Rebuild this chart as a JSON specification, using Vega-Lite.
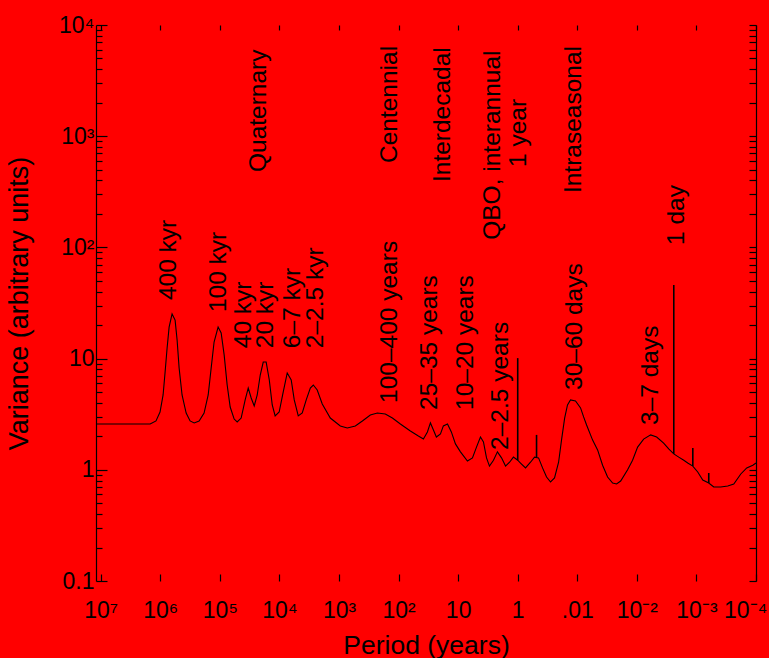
{
  "$schema": "https://vega.github.io/schema/vega-lite/v6.json",
  "width": 660,
  "height": 556,
  "autosize": {"type": "none"},
  "padding": {"left": 96, "top": 25, "right": 13, "bottom": 77},
  "background": "#ff0000",
  "config": {
    "view": {"stroke": null},
    "font": "Liberation Sans",
    "axis": {
      "grid": false,
      "labelColor": "#000000",
      "titleColor": "#000000",
      "tickColor": "#000000",
      "domainColor": "#000000",
      "labelFont": "Liberation Sans",
      "titleFont": "Liberation Sans",
      "titleFontWeight": "normal",
      "labelOverlap": false,
      "labelFlush": false
    }
  },
  "datasets": {
    "spectrum": [
      {"period": 12000000, "variance": 2.58},
      {"period": 1480000, "variance": 2.58},
      {"period": 1180000, "variance": 2.75},
      {"period": 1010000, "variance": 3.31},
      {"period": 897000, "variance": 4.71},
      {"period": 830000, "variance": 7.57},
      {"period": 769000, "variance": 12.4},
      {"period": 711000, "variance": 19.2},
      {"period": 634000, "variance": 25.2},
      {"period": 564000, "variance": 22.2},
      {"period": 522000, "variance": 14.7},
      {"period": 483000, "variance": 8.22},
      {"period": 431000, "variance": 4.71},
      {"period": 368000, "variance": 3.24},
      {"period": 316000, "variance": 2.75},
      {"period": 270000, "variance": 2.64},
      {"period": 223000, "variance": 2.75},
      {"period": 184000, "variance": 3.24},
      {"period": 157000, "variance": 4.71},
      {"period": 140000, "variance": 8.22},
      {"period": 125000, "variance": 14.1},
      {"period": 107000, "variance": 19.2},
      {"period": 95100, "variance": 17.0},
      {"period": 84700, "variance": 10.8},
      {"period": 75400, "variance": 5.79},
      {"period": 67100, "variance": 3.67},
      {"period": 57500, "variance": 2.86},
      {"period": 51200, "variance": 2.69},
      {"period": 43900, "variance": 2.92},
      {"period": 37600, "variance": 4.25},
      {"period": 33400, "variance": 5.44},
      {"period": 29800, "variance": 4.42},
      {"period": 26500, "variance": 3.75},
      {"period": 23600, "variance": 4.71},
      {"period": 21000, "variance": 7.12},
      {"period": 18700, "variance": 9.31},
      {"period": 16700, "variance": 9.31},
      {"period": 14800, "variance": 6.42},
      {"period": 13200, "variance": 3.83},
      {"period": 11800, "variance": 3.05},
      {"period": 10100, "variance": 3.31},
      {"period": 8630, "variance": 5.01},
      {"period": 7400, "variance": 7.43},
      {"period": 6340, "variance": 6.42},
      {"period": 5640, "variance": 4.25},
      {"period": 4830, "variance": 3.05},
      {"period": 4140, "variance": 3.24},
      {"period": 3550, "variance": 4.25},
      {"period": 3030, "variance": 5.44},
      {"period": 2700, "variance": 5.79},
      {"period": 2320, "variance": 5.22},
      {"period": 1910, "variance": 3.91},
      {"period": 1400, "variance": 2.92},
      {"period": 951, "variance": 2.48},
      {"period": 726, "variance": 2.38},
      {"period": 532, "variance": 2.48},
      {"period": 405, "variance": 2.75},
      {"period": 298, "variance": 3.11},
      {"period": 227, "variance": 3.24},
      {"period": 167, "variance": 3.18},
      {"period": 127, "variance": 2.92},
      {"period": 93.3, "variance": 2.58},
      {"period": 63.4, "variance": 2.23},
      {"period": 46.5, "variance": 2.01},
      {"period": 38.3, "variance": 1.89},
      {"period": 32.8, "variance": 2.19},
      {"period": 29.2, "variance": 2.64},
      {"period": 26.0, "variance": 2.28},
      {"period": 23.2, "variance": 1.97},
      {"period": 19.8, "variance": 2.10},
      {"period": 17.7, "variance": 2.48},
      {"period": 15.1, "variance": 2.58},
      {"period": 13.0, "variance": 2.19},
      {"period": 11.1, "variance": 1.71},
      {"period": 9.14, "variance": 1.45},
      {"period": 6.98, "variance": 1.20},
      {"period": 5.75, "variance": 1.28},
      {"period": 4.92, "variance": 1.60},
      {"period": 4.22, "variance": 1.97},
      {"period": 3.76, "variance": 1.78},
      {"period": 3.34, "variance": 1.28},
      {"period": 2.98, "variance": 1.08},
      {"period": 2.55, "variance": 1.22},
      {"period": 2.19, "variance": 1.45},
      {"period": 1.87, "variance": 1.28},
      {"period": 1.60, "variance": 1.08},
      {"period": 1.37, "variance": 1.17},
      {"period": 1.18, "variance": 1.30},
      {"period": 1.0, "variance": 1.22},
      {"period": 0.897, "variance": 1.15},
      {"period": 0.740, "variance": 1.04},
      {"period": 0.610, "variance": 1.17},
      {"period": 0.522, "variance": 1.30},
      {"period": 0.447, "variance": 1.28},
      {"period": 0.383, "variance": 1.04},
      {"period": 0.328, "variance": 0.861},
      {"period": 0.281, "variance": 0.777},
      {"period": 0.241, "variance": 0.844},
      {"period": 0.206, "variance": 1.17},
      {"period": 0.184, "variance": 1.85},
      {"period": 0.163, "variance": 2.92},
      {"period": 0.146, "variance": 3.83},
      {"period": 0.130, "variance": 4.25},
      {"period": 0.107, "variance": 4.16},
      {"period": 0.0881, "variance": 3.60},
      {"period": 0.0783, "variance": 2.99},
      {"period": 0.0698, "variance": 2.53},
      {"period": 0.0553, "variance": 1.85},
      {"period": 0.0456, "variance": 1.51},
      {"period": 0.0376, "variance": 1.10},
      {"period": 0.0310, "variance": 0.861},
      {"period": 0.0255, "variance": 0.760},
      {"period": 0.0219, "variance": 0.745},
      {"period": 0.0187, "variance": 0.793},
      {"period": 0.0143, "variance": 1.0},
      {"period": 0.0118, "variance": 1.22},
      {"period": 0.00971, "variance": 1.60},
      {"period": 0.00769, "variance": 1.89},
      {"period": 0.00586, "variance": 2.06},
      {"period": 0.00465, "variance": 1.97},
      {"period": 0.00355, "variance": 1.74},
      {"period": 0.00292, "variance": 1.54},
      {"period": 0.0024, "variance": 1.39},
      {"period": 0.00198, "variance": 1.30},
      {"period": 0.00163, "variance": 1.22},
      {"period": 0.00140, "variance": 1.15},
      {"period": 0.00115, "variance": 1.08},
      {"period": 0.000951, "variance": 0.955},
      {"period": 0.000783, "variance": 0.809},
      {"period": 0.000621, "variance": 0.760},
      {"period": 0.000512, "variance": 0.700},
      {"period": 0.000391, "variance": 0.700},
      {"period": 0.000298, "variance": 0.715},
      {"period": 0.000236, "variance": 0.745},
      {"period": 0.000180, "variance": 0.917},
      {"period": 0.000143, "variance": 1.04},
      {"period": 0.000113, "variance": 1.10},
      {"period": 0.0001, "variance": 1.15}
    ],
    "spikes": [
      {"period": 1.0, "low": 1.22, "high": 10.1},
      {"period": 0.483, "low": 1.30, "high": 2.06},
      {"period": 0.0024, "low": 1.39, "high": 45.9},
      {"period": 0.00115, "low": 1.08, "high": 1.57},
      {"period": 0.000621, "low": 0.76, "high": 0.936}
    ],
    "labels": [
      {"label": "400 kyr", "period": 542000, "variance": 33.6},
      {"label": "100 kyr", "period": 78300, "variance": 26.2},
      {"label": "40 kyr", "period": 29800, "variance": 12.4},
      {"label": "20 kyr", "period": 12700, "variance": 12.4},
      {"label": "6–7 kyr", "period": 4470, "variance": 12.4},
      {"label": "2–2.5 kyr", "period": 1840, "variance": 12.4},
      {"label": "100–400 years", "period": 105, "variance": 3.99},
      {"label": "25–35 years", "period": 22.3, "variance": 3.45},
      {"label": "10–20 years", "period": 5.53, "variance": 3.45},
      {"label": "2–2.5 years", "period": 1.48, "variance": 1.51},
      {"label": "30–60 days", "period": 0.0847, "variance": 5.22},
      {"label": "3–7 days", "period": 0.00447, "variance": 2.53},
      {"label": "1 day", "period": 0.00163, "variance": 105},
      {"label": "Quaternary", "period": 16700, "variance": 476},
      {"label": "Centennial", "period": 105, "variance": 574},
      {"label": "Interdecadal", "period": 13.5, "variance": 387},
      {"label": "QBO, interannual", "period": 1.95, "variance": 117},
      {"label": "1 year", "period": 0.74, "variance": 528},
      {"label": "Intraseasonal", "period": 0.0881, "variance": 308}
    ]
  },
  "resolve": {"axis": {"x": "independent", "y": "independent"}},
  "layer": [
    {
      "data": {"name": "spectrum"},
      "mark": {"type": "line", "color": "#000000", "strokeWidth": 1.1},
      "encoding": {
        "x": {
          "field": "period", "type": "quantitative",
          "scale": {"type": "log", "domain": [0.0001, 12000000], "reverse": true, "nice": false},
          "axis": {
            "orient": "bottom",
            "values": [10000000, 1000000, 100000, 10000, 1000, 100, 10, 1, 0.1, 0.01, 0.001, 0.0001],
            "labelExpr": "['10⁻⁴','10⁻³','10⁻²','.01','1','10','10²','10³','10⁴','10⁵','10⁶','10⁷'][round(log(datum.value)/LN10)+4]",
            "tickSize": -7,
            "tickWidth": 1.2,
            "domain": false,
            "labelPadding": 25,
            "labelFontSize": 23,
            "labelAlign": {"condition": {"test": "datum.value < 0.0002", "value": "right"}, "value": "center"},
            "labelOffset": {"condition": {"test": "datum.value < 0.0002", "value": 11}, "value": 0},
            "title": "Period (years)",
            "titleFontSize": 26.5,
            "titleY": 72,
            "titleBaseline": "alphabetic"
          }
        },
        "y": {
          "field": "variance", "type": "quantitative",
          "scale": {"type": "log", "domain": [0.1, 10000], "nice": false},
          "axis": {
            "orient": "left",
            "values": [0.1, 1, 10, 100, 1000, 10000],
            "labelExpr": "['0.1','1','10','10²','10³','10⁴'][round(log(datum.value)/LN10)+1]",
            "tickSize": -11,
            "tickWidth": 1.2,
            "domain": true,
            "domainWidth": 1.2,
            "labelPadding": 13,
            "labelFontSize": 23,
            "title": "Variance (arbitrary units)",
            "titleFontSize": 27,
            "titleX": -69,
            "titleY": 278,
            "titleAngle": 270,
            "titleAlign": "center",
            "titleBaseline": "alphabetic"
          }
        }
      }
    },
    {
      "data": {"name": "spikes"},
      "mark": {"type": "rule", "color": "#000000", "strokeWidth": 1.6},
      "encoding": {
        "x": {
          "field": "period", "type": "quantitative",
          "scale": {"type": "log", "domain": [0.0001, 12000000], "reverse": true, "nice": false},
          "axis": {
            "orient": "top",
            "values": [10000000, 1000000, 100000, 10000, 1000, 100, 10, 1, 0.1, 0.01, 0.001, 0.0001],
            "labels": false,
            "tickSize": -5,
            "tickWidth": 1.2,
            "domain": false,
            "title": null
          }
        },
        "y": {
          "field": "low", "type": "quantitative",
          "scale": {"type": "log", "domain": [0.1, 10000], "nice": false},
          "axis": {
            "orient": "left",
            "values": [0.2,0.3,0.4,0.5,0.6,0.7,0.8,0.9,2,3,4,5,6,7,8,9,20,30,40,50,60,70,80,90,200,300,400,500,600,700,800,900,2000,3000,4000,5000,6000,7000,8000,9000],
            "labels": false,
            "tickSize": -6,
            "tickWidth": 1.2,
            "domain": false,
            "title": null
          }
        },
        "y2": {"field": "high"}
      }
    },
    {
      "data": {"name": "labels"},
      "mark": {"type": "text", "angle": 270, "align": "left", "baseline": "alphabetic", "fontSize": 24.5, "font": "Liberation Sans", "color": "#000000"},
      "encoding": {
        "x": {
          "field": "period", "type": "quantitative",
          "scale": {"type": "log", "domain": [0.0001, 12000000], "reverse": true, "nice": false},
          "axis": null
        },
        "y": {
          "field": "variance", "type": "quantitative",
          "scale": {"type": "log", "domain": [0.1, 10000], "nice": false},
          "axis": {
            "orient": "right",
            "values": [0.1,0.2,0.3,0.4,0.5,0.6,0.7,0.8,0.9,1,2,3,4,5,6,7,8,9,10,20,30,40,50,60,70,80,90,100,200,300,400,500,600,700,800,900,1000,2000,3000,4000,5000,6000,7000,8000,9000,10000],
            "labels": false,
            "tickSize": -7,
            "tickWidth": 1.2,
            "domain": true,
            "domainWidth": 1.2,
            "title": null
          }
        },
        "text": {"field": "label"}
      }
    }
  ]
}
